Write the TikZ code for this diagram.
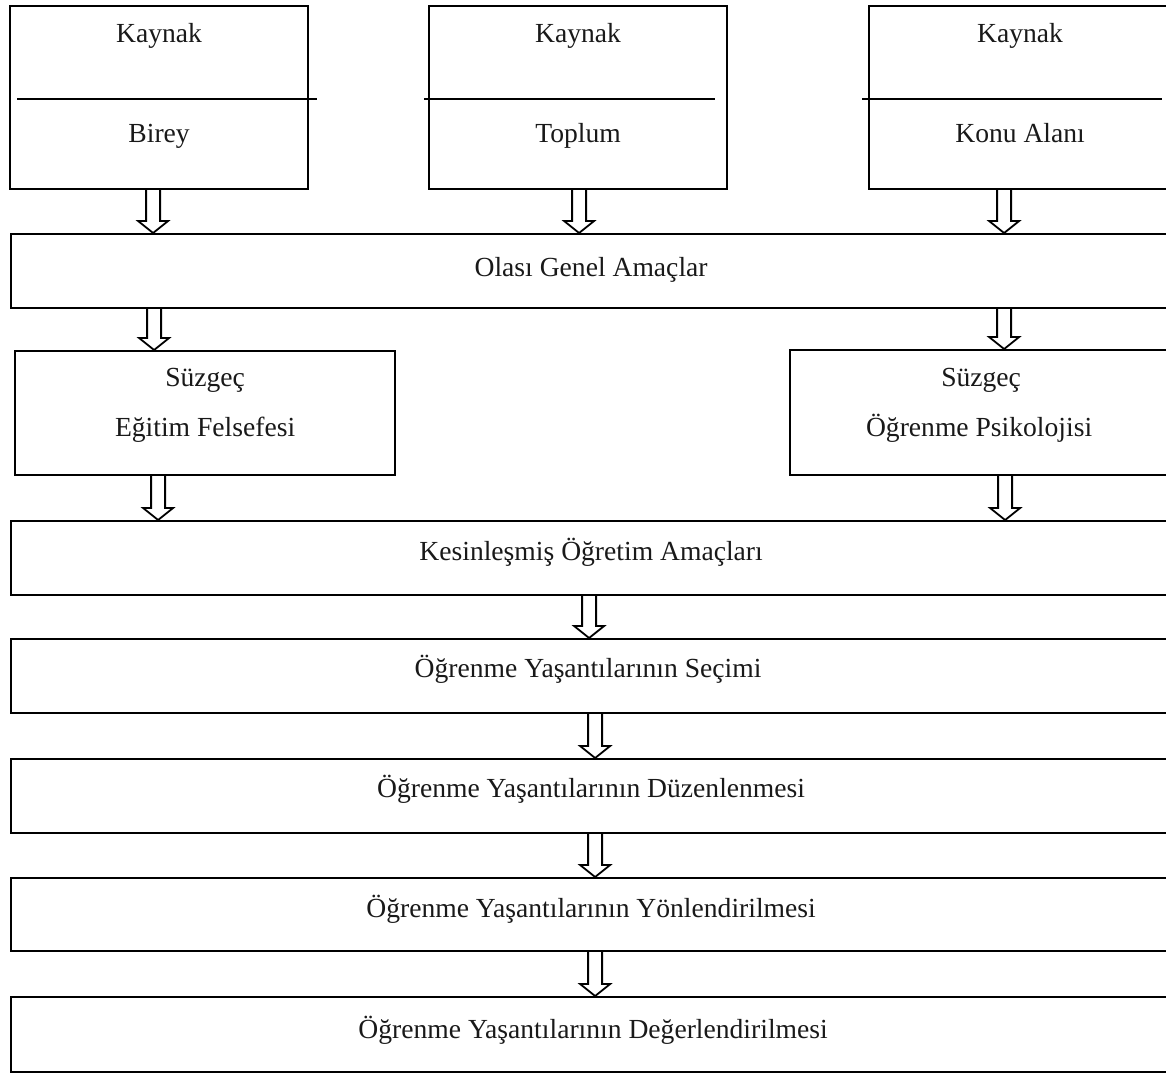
\documentclass[tikz,border=0pt]{standalone}
\usepackage{fontspec}
\setmainfont{Liberation Serif}
\usetikzlibrary{calc}

\tikzset{
  box/.style={draw, line width=1.1pt, anchor=north west, inner sep=0pt},
  lbl/.style={font=\fontsize{13.8}{16}\selectfont, text=black!90, inner sep=0pt,
              text height=1.5ex, text depth=.25ex},
  blockarrow/.style={line width=0.9pt, to path={
    let \p1=(\tikztostart), \p2=(\tikztotarget) in
      (\x1-3.5pt,\y1) -- (\x1-3.5pt,\y2+6pt) -- (\x1-7.5pt,\y2+6pt)
      -- (\x1,\y2) -- (\x1+7.5pt,\y2+6pt) -- (\x1+3.5pt,\y2+6pt)
      -- (\x1+3.5pt,\y1)}}
}

\begin{document}
\begin{tikzpicture}[x=0.5pt, y=-0.5pt]
\useasboundingbox (0,0) rectangle (1166,1077);
\clip (0,0) rectangle (1166,1077);

% sources
\node[box, minimum width=149pt, minimum height=91.5pt] (birey) at (9,5) {};
\node[box, minimum width=149pt, minimum height=91.5pt] (toplum) at (428,5) {};
\node[box, minimum width=151pt, minimum height=91.5pt] (konu) at (868,5) {};
\foreach \b/\t in {birey/Birey, toplum/Toplum, konu/Konu Alanı}{
  \node[lbl] (\b-k) at ($(\b.north)+(0,32)$) {Kaynak};
  \node[lbl] (\b-t) at ($(\b.north)+(0,132)$) {\t};
}
\draw[line width=0.9pt] ([xshift=4pt,yshift=-0.75pt]birey.west) -- ([xshift=4pt,yshift=-0.75pt]birey.east);
\draw[line width=0.9pt] ([xshift=-2pt,yshift=-0.75pt]toplum.west) -- ([xshift=-6.5pt,yshift=-0.75pt]toplum.east);
\draw[line width=0.9pt] ([xshift=-3pt,yshift=-0.75pt]konu.west) -- ([xshift=-5pt,yshift=-0.75pt]konu.east);

% possible general aims
\node[box, minimum width=580pt, minimum height=37pt] (olasi) at (10,233) {};
\node[lbl] at (olasi.center) {Olası Genel Amaçlar};

% filters
\node[box, minimum width=190pt, minimum height=62pt] (sL) at (14,350) {};
\node[lbl] at ($(sL.north)+(0,31)$) {Süzgeç};
\node[lbl] at ($(sL.north)+(0,81)$) {Eğitim Felsefesi};
\node[box, minimum width=191pt, minimum height=62.5pt] (sR) at (789,349) {};
\node[lbl] at ($(sR.north)+(0,32)$) {Süzgeç};
\node[lbl] at ($(sR.north)+(-2,82)$) {Öğrenme Psikolojisi};

% process chain
\node[box, minimum width=580pt, minimum height=37pt] (kesin) at (10,520) {};
\node[lbl] at ($(kesin.center)+(0,-3)$) {Kesinleşmiş Öğretim Amaçları};
\node[box, minimum width=580pt, minimum height=37pt] (secim) at (10,638) {};
\node[lbl] at ($(secim.center)+(-3,-4)$) {Öğrenme Yaşantılarının Seçimi};
\node[box, minimum width=580pt, minimum height=37pt] (duzen) at (10,758) {};
\node[lbl] at ($(duzen.center)+(0,-4)$) {Öğrenme Yaşantılarının Düzenlenmesi};
\node[box, minimum width=580pt, minimum height=36.5pt] (yon) at (10,877) {};
\node[lbl] at ($(yon.center)+(0,-3)$) {Öğrenme Yaşantılarının Yönlendirilmesi};
\node[box, minimum width=580pt, minimum height=37.5pt] (deger) at (10,996) {};
\node[lbl] at ($(deger.center)+(2,-2)$) {Öğrenme Yaşantılarının Değerlendirilmesi};

% hollow block arrows
\coordinate (a1) at ($(birey.south)+(-6,0)$);
\coordinate (a2) at ($(toplum.south)+(1,0)$);
\coordinate (a3) at ($(konu.south)+(-16,0)$);
\coordinate (a4) at ($(olasi.south)+(-437,0)$);
\coordinate (a5) at ($(olasi.south)+(413,0)$);
\coordinate (a6) at ($(sL.south)+(-47,0)$);
\coordinate (a7) at ($(sR.south)+(24,0)$);
\coordinate (a8) at ($(kesin.south)+(-2,0)$);
\coordinate (a9) at ($(secim.south)+(4,0)$);
\coordinate (a10) at ($(duzen.south)+(4,0)$);
\coordinate (a11) at ($(yon.south)+(4,0)$);
\draw[blockarrow] (a1) to (a1 |- olasi.north);
\draw[blockarrow] (a2) to (a2 |- olasi.north);
\draw[blockarrow] (a3) to (a3 |- olasi.north);
\draw[blockarrow] (a4) to (a4 |- sL.north);
\draw[blockarrow] (a5) to (a5 |- sR.north);
\draw[blockarrow] (a6) to (a6 |- kesin.north);
\draw[blockarrow] (a7) to (a7 |- kesin.north);
\draw[blockarrow] (a8) to (a8 |- secim.north);
\draw[blockarrow] (a9) to (a9 |- duzen.north);
\draw[blockarrow] (a10) to (a10 |- yon.north);
\draw[blockarrow] (a11) to (a11 |- deger.north);
\end{tikzpicture}
\end{document}
